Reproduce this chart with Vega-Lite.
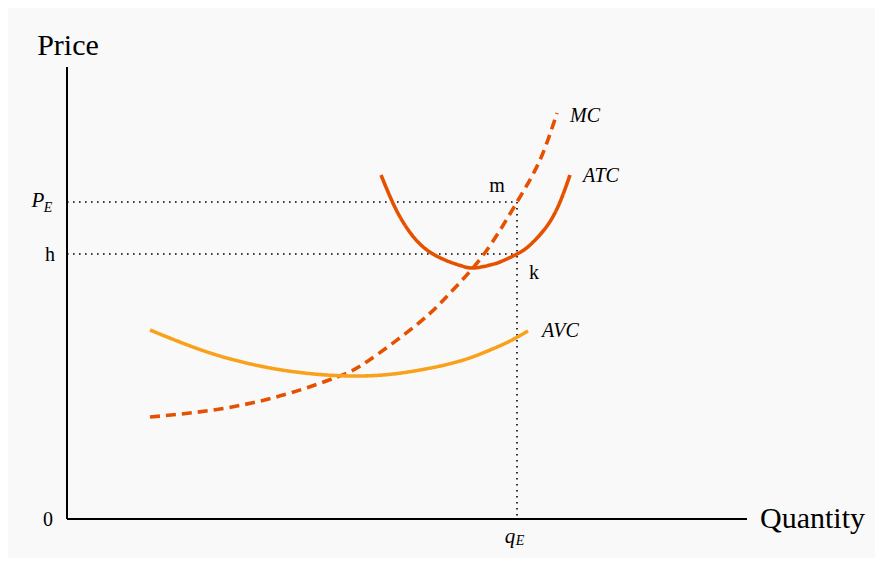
{
  "$schema": "https://vega.github.io/schema/vega-lite/v6.json",
  "autosize": "none",
  "width": 867,
  "height": 550,
  "padding": {"left": 8, "top": 8, "right": 8, "bottom": 8},
  "background": "#ffffff",
  "config": {"view": {"fill": "#f9f9f9", "stroke": null}},
  "datasets": {
    "curves": [
      {"curve": "MC", "q": 83, "p": 102}, {"curve": "MC", "q": 153, "p": 110}, {"curve": "MC", "q": 220, "p": 125},
      {"curve": "MC", "q": 270, "p": 142}, {"curve": "MC", "q": 301, "p": 158}, {"curve": "MC", "q": 353, "p": 197},
      {"curve": "MC", "q": 383, "p": 226}, {"curve": "MC", "q": 417, "p": 265}, {"curve": "MC", "q": 450, "p": 317},
      {"curve": "MC", "q": 473, "p": 359}, {"curve": "MC", "q": 490, "p": 406},
      {"curve": "ATC", "q": 314, "p": 344}, {"curve": "ATC", "q": 325, "p": 318}, {"curve": "ATC", "q": 336, "p": 297},
      {"curve": "ATC", "q": 350, "p": 278}, {"curve": "ATC", "q": 366, "p": 265}, {"curve": "ATC", "q": 383, "p": 257},
      {"curve": "ATC", "q": 395, "p": 253}, {"curve": "ATC", "q": 407, "p": 251}, {"curve": "ATC", "q": 423, "p": 254},
      {"curve": "ATC", "q": 433, "p": 257}, {"curve": "ATC", "q": 450, "p": 265}, {"curve": "ATC", "q": 463, "p": 274},
      {"curve": "ATC", "q": 480, "p": 293}, {"curve": "ATC", "q": 493, "p": 317}, {"curve": "ATC", "q": 503, "p": 344},
      {"curve": "AVC", "q": 83, "p": 189}, {"curve": "AVC", "q": 118, "p": 175}, {"curve": "AVC", "q": 153, "p": 163},
      {"curve": "AVC", "q": 193, "p": 153}, {"curve": "AVC", "q": 233, "p": 146.5}, {"curve": "AVC", "q": 273, "p": 143.3},
      {"curve": "AVC", "q": 313, "p": 143.8}, {"curve": "AVC", "q": 353, "p": 149}, {"curve": "AVC", "q": 393, "p": 158},
      {"curve": "AVC", "q": 423, "p": 169}, {"curve": "AVC", "q": 443, "p": 178}, {"curve": "AVC", "q": 461, "p": 188}
    ],
    "axes": [
      {"q": 0, "p": 0, "q2": 0, "p2": 452},
      {"q": 0, "p": 0, "q2": 680, "p2": 0}
    ],
    "guides": [
      {"q": 0, "p": 317, "q2": 450, "p2": 317},
      {"q": 0, "p": 265, "q2": 450, "p2": 265},
      {"q": 450, "p": 317, "q2": 450, "p2": 0}
    ],
    "titleY": [{"text": "Price", "q": 1, "p": 473}],
    "titleX": [{"text": "Quantity", "q": 693, "p": 0}],
    "plainLabels": [
      {"text": "0", "q": -19, "p": -1},
      {"text": "h", "q": -17, "p": 264},
      {"text": "m", "q": 430, "p": 333},
      {"text": "k", "q": 467, "p": 246}
    ],
    "italicLabels": [
      {"text": "MC", "q": 503, "p": 403},
      {"text": "ATC", "q": 516, "p": 343},
      {"text": "AVC", "q": 475, "p": 188}
    ],
    "mainSymbols": [
      {"text": "P", "q": -29, "p": 318},
      {"text": "q", "q": 443, "p": -18}
    ],
    "subscripts": [
      {"text": "E", "q": -19, "p": 311},
      {"text": "E", "q": 453, "p": -22}
    ]
  },
  "encoding": {
    "x": {"field": "q", "type": "quantitative", "scale": {"domain": [-59, 808], "nice": false, "zero": false}, "axis": null},
    "y": {"field": "p", "type": "quantitative", "scale": {"domain": [-39, 511], "nice": false, "zero": false}, "axis": null}
  },
  "layer": [
    {
      "data": {"name": "guides"},
      "mark": {"type": "rule", "color": "#000000", "strokeWidth": 1.6, "strokeDash": [1.6, 4.4]},
      "encoding": {"x2": {"field": "q2"}, "y2": {"field": "p2"}}
    },
    {
      "data": {"name": "axes"},
      "mark": {"type": "rule", "color": "#000000", "strokeWidth": 2},
      "encoding": {"x2": {"field": "q2"}, "y2": {"field": "p2"}}
    },
    {
      "data": {"name": "curves"},
      "mark": {"type": "line", "interpolate": "natural", "strokeWidth": 3.6},
      "encoding": {
        "color": {"field": "curve", "type": "nominal", "scale": {"domain": ["MC", "ATC", "AVC"], "range": ["#e65100", "#e65100", "#f9a11b"]}, "legend": null},
        "strokeDash": {"field": "curve", "type": "nominal", "scale": {"domain": ["MC", "ATC", "AVC"], "range": [[10, 6], [1, 0], [1, 0]]}, "legend": null}
      }
    },
    {
      "data": {"name": "titleY"},
      "mark": {"type": "text", "font": "Liberation Serif", "fontSize": 30, "baseline": "middle", "align": "center", "color": "#000000"},
      "encoding": {"text": {"field": "text"}}
    },
    {
      "data": {"name": "titleX"},
      "mark": {"type": "text", "font": "Liberation Serif", "fontSize": 30, "baseline": "middle", "align": "left", "color": "#000000"},
      "encoding": {"text": {"field": "text"}}
    },
    {
      "data": {"name": "plainLabels"},
      "mark": {"type": "text", "font": "Liberation Serif", "fontSize": 20, "baseline": "middle", "align": "center", "color": "#000000"},
      "encoding": {"text": {"field": "text"}}
    },
    {
      "data": {"name": "italicLabels"},
      "mark": {"type": "text", "font": "Liberation Serif", "fontStyle": "italic", "fontSize": 20, "baseline": "middle", "align": "left", "color": "#000000"},
      "encoding": {"text": {"field": "text"}}
    },
    {
      "data": {"name": "mainSymbols"},
      "mark": {"type": "text", "font": "Liberation Serif", "fontStyle": "italic", "fontSize": 21, "baseline": "middle", "align": "center", "color": "#000000"},
      "encoding": {"text": {"field": "text"}}
    },
    {
      "data": {"name": "subscripts"},
      "mark": {"type": "text", "font": "Liberation Serif", "fontStyle": "italic", "fontSize": 14, "baseline": "middle", "align": "center", "color": "#000000"},
      "encoding": {"text": {"field": "text"}}
    }
  ]
}
